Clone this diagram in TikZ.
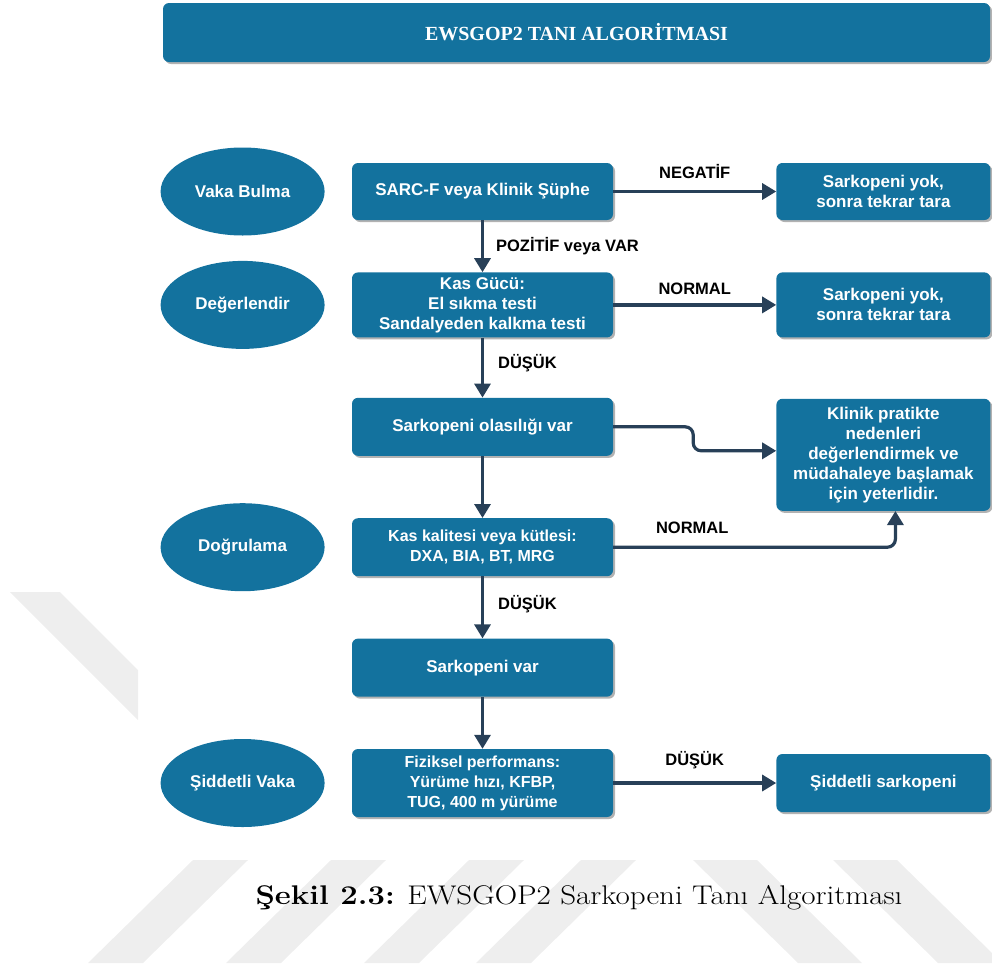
\documentclass[tikz,border=0pt]{standalone}
\usepackage{fontspec}
\newfontfamily\arialfont{Liberation Sans}
\newfontfamily\timesfont{Liberation Serif}
\newfontfamily\capfont{Latin Modern Roman}[FakeStretch=1.15]
\usetikzlibrary{arrows.meta,positioning,shapes.geometric,shadows}
\definecolor{boxblue}{RGB}{19,114,158}
\definecolor{arrowdark}{RGB}{40,64,88}
\definecolor{markgray}{RGB}{238,238,238}

\begin{document}
\begin{tikzpicture}[
  x=1pt, y=-1pt,
  box/.style={fill=boxblue, rounded corners=6pt, text=white, align=center, inner sep=2pt,
    font=\arialfont\bfseries\fontsize{17}{20}\selectfont,
    minimum width=261pt, minimum height=58pt,
    drop shadow={shadow xshift=2pt, shadow yshift=-2pt, opacity=.3, fill=black}},
  sidebox/.style={box, minimum width=214pt},
  stage/.style={ellipse, fill=boxblue, text=white, minimum width=164pt, minimum height=88pt,
    inner sep=0pt, font=\arialfont\bfseries\fontsize{17}{20}\selectfont},
  lbl/.style={font=\arialfont\bfseries\fontsize{16.5}{19}\selectfont, text=black, inner sep=0pt},
  arrow/.style={-{Triangle[length=14pt,width=16pt]}, line width=3.2pt, draw=arrowdark}
]
\useasboundingbox (0,0) rectangle (992,967);

% watermark stripes
\fill[markgray] (10,592) -- (60,592) -- (138,670) -- (138,720) -- cycle;
\foreach \bx in {88,226,364,476}
  \fill[markgray] (\bx,963) -- (\bx+55,963) -- (\bx+160,860) -- (\bx+105,860) -- cycle;
\fill[markgray] (693,860) -- (757,860) -- (862,963) -- (798,963) -- cycle;
\fill[markgray] (833,860) -- (897,860) -- (992,953) -- (992,963) -- (938,963) -- cycle;

\node[box, minimum width=827pt, minimum height=59pt,
  font=\timesfont\bfseries\fontsize{20}{24}\selectfont] (title) at (576.5,32.5) {EWSGOP2 TANI ALGORİTMASI};

% main column
\node[box, minimum height=57pt] (sarc) at (482.5,191.5) {SARC-F veya Klinik Şüphe};
\node[box, below=52pt of sarc, minimum height=65pt] (kas) {Kas Gücü:\\El sıkma testi\\Sandalyeden kalkma testi};
\node[box, below=60pt of kas] (olas) {Sarkopeni olasılığı var};
\node[box, below=62pt of olas, font=\arialfont\bfseries\fontsize{16}{20}\selectfont] (kalite) {Kas kalitesi veya kütlesi:\\DXA, BIA, BT, MRG};
\node[box, below=62pt of kalite] (var) {Sarkopeni var};
\node[box, below=52pt of var, minimum height=68pt, font=\arialfont\bfseries\fontsize{16}{20}\selectfont] (fiz) {Fiziksel performans:\\Yürüme hızı, KFBP,\\TUG, 400 m yürüme};

% right column
\node[sidebox, right=163pt of sarc, minimum height=57pt] (yok1) {Sarkopeni yok,\\sonra tekrar tara};
\node[sidebox, right=163pt of kas, minimum height=65pt] (yok2) {Sarkopeni yok,\\sonra tekrar tara};
\node[sidebox, minimum height=112pt, anchor=north west] (klinik) at ([xshift=163pt, yshift=-1pt]olas.north east)
  {Klinik pratikte\\nedenleri\\değerlendirmek ve\\müdahaleye başlamak\\için yeterlidir.};
\node[sidebox, right=163pt of fiz] (siddetli) {Şiddetli sarkopeni};

% stages
\node[stage, left=27pt of sarc] (vaka) {Vaka Bulma};
\node[stage, left=27pt of kas] (deger) {Değerlendir};
\node[stage, left=27pt of kalite] (dogru) {Doğrulama};
\node[stage, left=27pt of fiz] (siddet) {Şiddetli Vaka};

% connectors
\draw[arrow] (sarc) -- node[lbl, above=11pt]{NEGATİF} (yok1);
\draw[arrow] (sarc) -- node[lbl, right=12pt]{POZİTİF veya VAR} (kas);
\draw[arrow] (kas) -- node[lbl, above=9pt]{NORMAL} (yok2);
\draw[arrow] (kas) -- node[lbl, right=14pt, pos=0.42]{DÜŞÜK} (olas);
\draw[arrow, rounded corners=8pt] (olas.east) -- ++(80,0) |- ([yshift=4pt]klinik.west);
\draw[arrow] (olas) -- (kalite);
\draw[arrow, rounded corners=8pt] (kalite.east) -| node[lbl, pos=0.14, above=12pt]{NORMAL} ([xshift=12pt]klinik.south);
\draw[arrow] (kalite) -- node[lbl, right=14pt, pos=0.44]{DÜŞÜK} (var);
\draw[arrow] (var) -- (fiz);
\draw[arrow] (fiz) -- node[lbl, above=12pt]{DÜŞÜK} (siddetli);

\node[font=\capfont\fontsize{27}{31}\selectfont, inner sep=0pt] (caption) at (579,898)
  {\textbf{Şekil 2.3:} EWSGOP2 Sarkopeni Tanı Algoritması};
\end{tikzpicture}
\end{document}
